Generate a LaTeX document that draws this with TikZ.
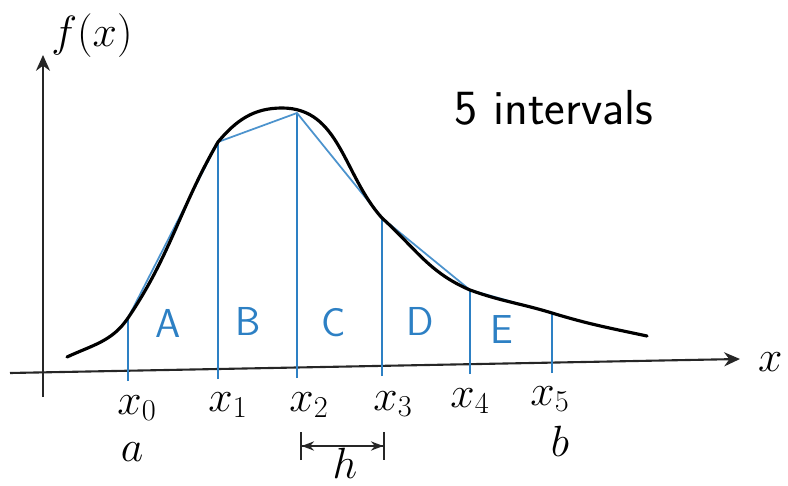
\documentclass[tikz,border=0pt]{standalone}
\usepackage{amsmath, amssymb}
\usepackage{tikz}
\usetikzlibrary{arrows.meta, calc}

\definecolor{penblue}{RGB}{45,128,196}

\tikzset{
    curve/.style={line width=1.8pt, black, line cap=round},
    axis/.style={line width=1.2pt, black!85},
    ordinate/.style={line width=1.1pt, penblue},
    chord/.style={line width=1pt, penblue!85},
    lab/.style={font=\fontsize{24}{28}\selectfont},
    strip/.style={font=\sffamily\fontsize{23}{27}\selectfont, text=penblue},
}

\begin{document}
\begin{tikzpicture}[x=0.02cm, y=-0.02cm, >=Stealth]
    \useasboundingbox (0,0) rectangle (788,486);
    % axes
    \coordinate (xl) at (10,373);
    \coordinate (xr) at (740,359);
    \coordinate (yb) at (43,397);
    \coordinate (yt) at (43,55);
    \draw[axis, -{Stealth[length=9pt, width=8pt]}] (xl) -- (xr);
    \draw[axis, -{Stealth[length=9pt, width=8pt]}] (yb) -- (yt);
    \node[lab, anchor=west] (xlab) at (752,362) {$x$};
    \node[lab] (flab) at (92,36) {$f(x)$};

    % points on the curve and feet of the ordinates
    \coordinate (cs) at (67,357);
    \coordinate (p0) at (128,318);
    \coordinate (p1) at (218,142);
    \coordinate (pk) at (282,108);
    \coordinate (p2) at (297,113);
    \coordinate (p3) at (382,218);
    \coordinate (p4) at (470,290);
    \coordinate (p5) at (552,313);
    \coordinate (ce) at (647,336);
    \coordinate (t0) at (128,381);
    \coordinate (t1) at (218,379);
    \coordinate (t2) at (297,378);
    \coordinate (t3) at (382,376);
    \coordinate (t4) at (470,374);
    \coordinate (t5) at (552,373);

    % ordinates and chords
    \foreach \i in {0,...,5}
        \draw[ordinate] (t\i) -- (p\i);
    \draw[chord] (p0) -- (p1) -- (p2) -- (p3) -- (p4) -- (p5);

    % the function
    \draw[curve] (cs) to[out=25, in=236] (p0) to[out=56, in=240] (p1)
        to[out=50, in=180] (pk) to[out=0, in=132] (p3)
        to[out=-42, in=157] (p4) to[out=-20, in=163] (p5) to[out=-17, in=168] (ce);

    % strips
    \node[strip] (A) at (168,323) {A};
    \node[strip] (B) at (248,321) {B};
    \node[strip] (C) at (334,323) {C};
    \node[strip] (D) at (420,321) {D};
    \node[strip] (E) at (502,330) {E};

    % abscissae
    \node[lab] (x0) at (137,408) {$x_0$};
    \node[lab] (x1) at (228,405) {$x_1$};
    \node[lab] (x2) at (309,405) {$x_2$};
    \node[lab] (x3) at (393,404) {$x_3$};
    \node[lab] (x4) at (470,401) {$x_4$};
    \node[lab] (x5) at (550,399) {$x_5$};
    \node[lab] (a) at (132,452) {$a$};
    \node[lab] (b) at (560,441) {$b$};

    % step width
    \coordinate (hl) at (300,446);
    \coordinate (hr) at (385,446);
    \draw[axis, line width=1pt, {Bar[width=16pt]Stealth[length=7pt]}-{Stealth[length=7pt]Bar[width=16pt]}] (hl) -- (hr);
    \node[lab] (h) at (345,463) {$h$};

    \node[font=\sffamily\fontsize{28}{32}\selectfont] (title) at (554,108) {5 intervals};
\end{tikzpicture}
\end{document}
